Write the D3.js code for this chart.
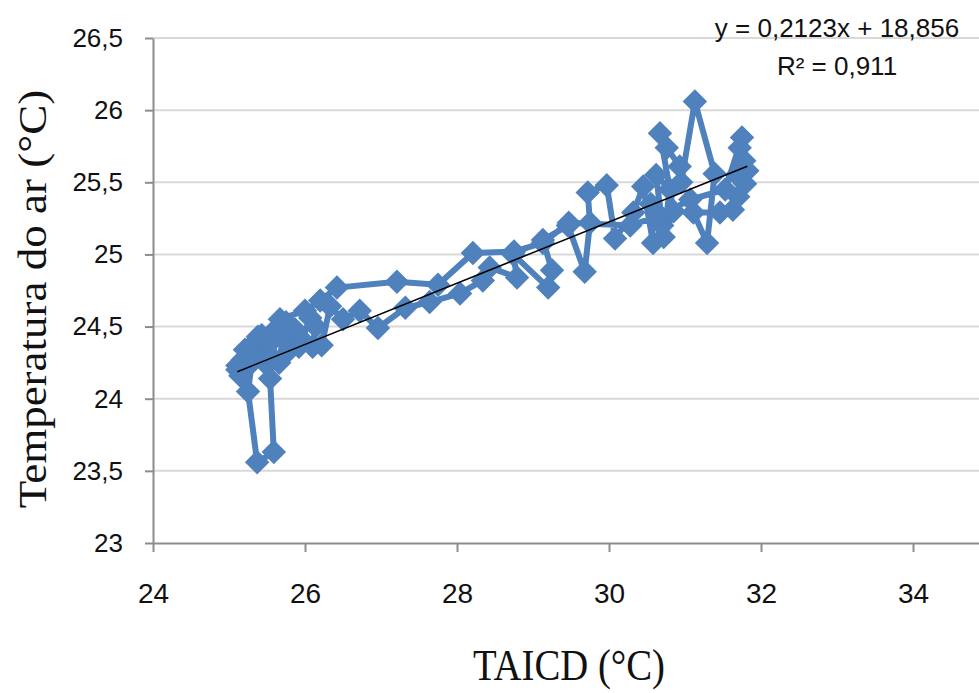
<!DOCTYPE html>
<html>
<head>
<meta charset="utf-8">
<script src="https://cdn.jsdelivr.net/npm/d3@7"></script>
<style>
  body { margin: 0; background: #fff; }
  svg { display: block; }
</style>
</head>
<body>
<svg id="chart" width="979" height="693"></svg>
<script>
// x ticks (TAICD) and y ticks (air temperature)
const xTicks = [24, 26, 28, 30, 32, 34];
const yTicks = [23, 23.5, 24, 24.5, 25, 25.5, 26, 26.5];

// series, in plotting order
const taicd = [
  25.11, 25.18, 25.15, 25.28, 25.22, 25.36, 25.30, 25.25, 25.37, 25.59,
  25.54, 25.47, 25.43, 25.38, 25.51, 25.58, 25.61, 25.71, 25.66, 25.80,
  25.75, 25.87, 25.92, 25.96, 26.07, 26.14, 26.10, 26.22, 26.33, 26.50,
  26.72, 26.96, 27.32, 27.64, 28.04, 28.34, 28.43, 28.79, 28.74, 29.20,
  29.25, 29.13, 29.46, 29.68, 29.75, 29.72, 29.97, 30.08, 30.32, 30.45,
  30.58, 30.55, 30.70, 30.62, 30.80, 30.72, 30.85, 30.67, 30.76, 30.93,
  30.95, 31.13, 31.39, 31.29, 31.11, 31.46, 31.63, 31.70, 31.79, 31.82,
  31.68, 31.78, 31.72, 31.75, 31.53, 31.07, 30.67, 30.28, 29.47, 29.13,
  28.75, 28.21, 27.75, 27.21, 26.42, 26.20, 26.00, 25.67, 25.43, 25.21,
  25.11
];
const tempAr = [
  24.20, 24.27, 24.16, 24.30, 24.22, 24.40, 24.25, 24.05, 23.56, 23.63,
  24.14, 24.25, 24.34, 24.43, 24.37, 24.28, 24.48, 24.43, 24.25, 24.34,
  24.53, 24.48, 24.36, 24.41, 24.56, 24.50, 24.36, 24.37, 24.64, 24.55,
  24.61, 24.49, 24.63, 24.67, 24.73, 24.82, 24.91, 24.84, 25.00, 24.77,
  24.89, 25.10, 25.20, 24.88, 25.22, 25.43, 25.48, 25.11, 25.29, 25.47,
  25.08, 25.35, 25.20, 25.55, 25.45, 25.12, 25.30, 25.84, 25.74, 25.61,
  25.50, 26.06, 25.56, 25.08, 25.29, 25.29, 25.31, 25.40, 25.49, 25.58,
  25.55, 25.65, 25.74, 25.81, 25.45, 25.38, 25.27, 25.20, 25.22, 25.08,
  25.02, 25.01, 24.79, 24.81, 24.77, 24.68, 24.61, 24.55, 24.44, 24.34,
  24.23
];

// linear trend shown on the chart
const slope = 0.2123;
const intercept = 18.856;
const eqLines = ['y = 0,2123x + 18,856', 'R² = 0,911'];

const points = taicd.map((x, i) => ({ x: x, y: tempAr[i] }));

const svg = d3.select('#chart');
const DIM = { width: 979, height: 693, left: 153, top: 38, bottom: 543, right: 989 };

const xScale = d3.scaleLinear().domain([24, 35]).range([DIM.left, DIM.right]);
const yScale = d3.scaleLinear().domain([23, 26.5]).range([DIM.bottom, DIM.top]);
const fmt = d => String(d).replace('.', ',');

// gridlines
svg.append('g')
  .selectAll('line')
  .data(yTicks.filter(d => d > 23))
  .join('line')
  .attr('x1', DIM.left)
  .attr('x2', DIM.width)
  .attr('y1', d => yScale(d))
  .attr('y2', d => yScale(d))
  .attr('stroke', '#d9d9d9')
  .attr('stroke-width', 2);

// y axis
const yAxis = svg.append('g')
  .attr('transform', `translate(${DIM.left},0)`)
  .call(d3.axisLeft(yScale).tickValues(yTicks).tickFormat(fmt).tickSize(8).tickSizeOuter(0).tickPadding(22));

// x axis
const xAxis = svg.append('g')
  .attr('transform', `translate(0,${DIM.bottom})`)
  .call(d3.axisBottom(xScale).tickValues(xTicks).tickFormat(fmt).tickSize(9).tickSizeOuter(0).tickPadding(31));

[yAxis, xAxis].forEach(ax => {
  ax.select('.domain').attr('stroke', '#8c8c8c').attr('stroke-width', 2);
  ax.selectAll('.tick line').attr('stroke', '#8c8c8c').attr('stroke-width', 2);
  ax.selectAll('.tick text')
    .attr('fill', '#111')
    .attr('font-family', '"Liberation Sans", Arial, sans-serif');
});
yAxis.selectAll('.tick text').attr('font-size', 26);
xAxis.selectAll('.tick text').attr('font-size', 28);

// series line + diamond markers
const line = d3.line().x(d => xScale(d.x)).y(d => yScale(d.y));
svg.append('path')
  .datum(points)
  .attr('d', line)
  .attr('fill', 'none')
  .attr('stroke', '#4f81bd')
  .attr('stroke-width', 6)
  .attr('stroke-linejoin', 'round');

const diamond = d3.symbol().type(d3.symbolSquare).size(300);
svg.append('g')
  .selectAll('path')
  .data(points)
  .join('path')
  .attr('d', diamond)
  .attr('transform', d => `translate(${xScale(d.x)},${yScale(d.y)}) rotate(45)`)
  .attr('fill', '#4f81bd');

// trend line over data range
const ext = d3.extent(taicd);
svg.append('line')
  .attr('x1', xScale(ext[0]))
  .attr('y1', yScale(slope * ext[0] + intercept))
  .attr('x2', xScale(ext[1]))
  .attr('y2', yScale(slope * ext[1] + intercept))
  .attr('stroke', '#000')
  .attr('stroke-width', 1.5);

// equation label
svg.append('g')
  .selectAll('text')
  .data(eqLines)
  .join('text')
  .attr('x', 837)
  .attr('y', (d, i) => 37 + i * 38)
  .attr('text-anchor', 'middle')
  .attr('font-family', '"Liberation Sans", Arial, sans-serif')
  .attr('font-size', 26)
  .attr('fill', '#111')
  .text(d => d);

// axis titles
svg.append('text')
  .attr('transform', 'translate(569,680) scale(0.88,1)')
  .attr('text-anchor', 'middle')
  .attr('font-family', '"Liberation Serif", "Times New Roman", serif')
  .attr('font-size', 44)
  .attr('fill', '#111')
  .text('TAICD (°C)');

svg.append('text')
  .attr('transform', 'translate(46,299) rotate(-90) scale(1,0.9)')
  .attr('text-anchor', 'middle')
  .attr('font-family', '"Liberation Serif", "Times New Roman", serif')
  .attr('font-size', 45)
  .attr('fill', '#111')
  .text('Temperatura do ar (°C)');
</script>
</body>
</html>
